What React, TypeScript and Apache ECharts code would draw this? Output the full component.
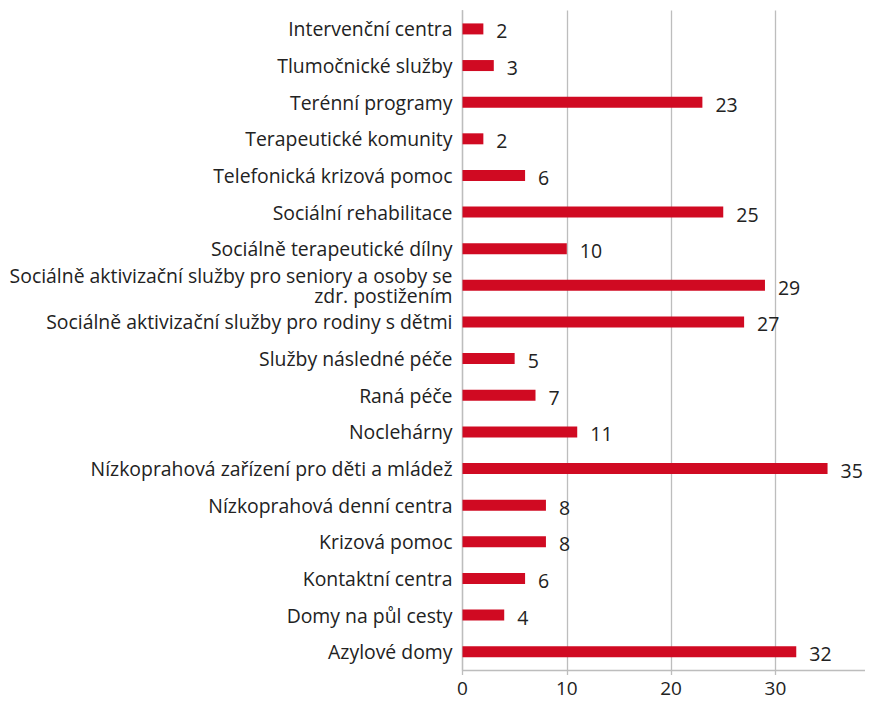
import React, { useEffect, useRef } from "react";
import * as echarts from "echarts";

const categories = [
  "Azylové domy",
  "Domy na půl cesty",
  "Kontaktní centra",
  "Krizová pomoc",
  "Nízkoprahová denní centra",
  "Nízkoprahová zařízení pro děti a mládež",
  "Noclehárny",
  "Raná péče",
  "Služby následné péče",
  "Sociálně aktivizační služby pro rodiny s dětmi",
  "Sociálně aktivizační služby pro seniory a osoby se\nzdr. postižením",
  "Sociálně terapeutické dílny",
  "Sociální rehabilitace",
  "Telefonická krizová pomoc",
  "Terapeutické komunity",
  "Terénní programy",
  "Tlumočnické služby",
  "Intervenční centra",
];

const values = [32, 4, 6, 8, 8, 35, 11, 7, 5, 27, 29, 10, 25, 6, 2, 23, 3, 2];

const FONT = "'Open Sans', 'Noto Sans', sans-serif";

export default function App() {
  const ref = useRef<HTMLDivElement>(null);
  useEffect(() => {
    if (!ref.current) return;
    const chart = echarts.init(ref.current, null, { renderer: "svg" });
    chart.setOption({
      animation: false,
      grid: {
        left: 454.5,
        right: -6.7,
        top: 2.6,
        bottom: 31,
        containLabel: false,
        outerBoundsMode: "none",
      },
      xAxis: {
        type: "value",
        min: 0,
        max: 40,
        interval: 10,
        axisLine: { show: true, lineStyle: { color: "#bdbdbd", width: 1.3 } },
        axisTick: { show: true, length: 5, lineStyle: { color: "#bdbdbd", width: 1.3 } },
        axisLabel: {
          color: "#222",
          fontSize: 19,
          fontFamily: FONT,
          margin: 8,
          showMaxLabel: false,
        },
        splitLine: { show: true, showMaxLine: false, lineStyle: { color: "#bdbdbd", width: 1.3 } },
      },
      yAxis: {
        type: "category",
        data: categories,
        axisLine: { show: true, lineStyle: { color: "#bdbdbd", width: 1.3 } },
        axisTick: { show: false },
        axisLabel: {
          color: "#222",
          fontSize: 19.4,
          fontFamily: FONT,
          margin: 10,
          lineHeight: 20,
        },
      },
      series: [
        {
          type: "bar",
          data: values,
          barWidth: 11,
          itemStyle: { color: "#d00a22" },
          label: {
            show: true,
            position: "right",
            distance: 13,
            color: "#222",
            fontSize: 19.5,
            fontFamily: FONT,
            offset: [0, 2],
          },
        },
      ],
    });
    return () => chart.dispose();
  }, []);
  return <div ref={ref} style={{ width: 865, height: 693 }} />;
}
